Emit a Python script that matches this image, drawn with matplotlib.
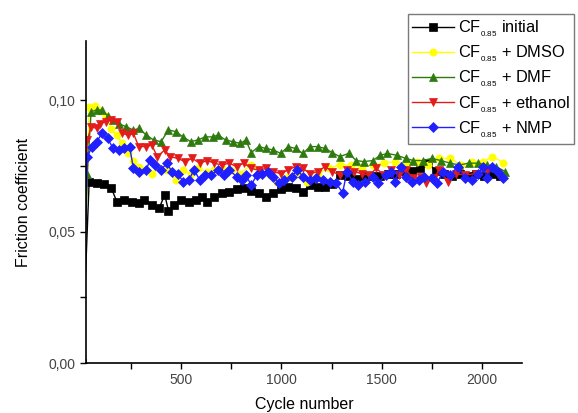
import matplotlib.pyplot as plt
from matplotlib.ticker import FixedLocator, FuncFormatter

plt.rcParams['font.family'] = ['Liberation Sans', 'DejaVu Sans']
plt.rcParams['mathtext.fontset'] = 'custom'
plt.rcParams['mathtext.rm'] = 'Liberation Sans'

# friction coefficient vs cycle number, one pair of lists per sample
cyc_initial = [5, 40, 77, 114, 151, 178, 215, 252, 288, 316, 353, 390, 417, 436, 463, 500, 537, 574,
               601, 629, 665, 702, 739, 776, 812, 849, 886, 923, 960, 996, 1033, 1070, 1107, 1143,
               1180, 1217, 1254, 1290, 1330, 1370, 1410, 1450, 1490, 1530, 1570, 1610, 1650, 1690,
               1730, 1770, 1810, 1850, 1890, 1930, 1970, 2010, 2050, 2090]
cf_initial = [0.0, 0.069, 0.0684, 0.068, 0.0665, 0.0614, 0.062, 0.0614, 0.061, 0.062, 0.060, 0.0589,
              0.064, 0.058, 0.060, 0.062, 0.0614, 0.062, 0.063, 0.0614, 0.063, 0.0646, 0.065, 0.066,
              0.0665, 0.0656, 0.0646, 0.063, 0.0646, 0.066, 0.067, 0.0665, 0.065, 0.0677, 0.067,
              0.067, 0.068, 0.0715, 0.071, 0.070, 0.071, 0.071, 0.071, 0.072, 0.072, 0.073, 0.073,
              0.074, 0.076, 0.073, 0.072, 0.071, 0.072, 0.071, 0.072, 0.071, 0.072, 0.071]

cyc_dmso = [5, 40, 68, 95, 123, 151, 178, 206, 233, 261, 288, 325, 353, 390, 427, 472, 509, 546, 583,
            629, 665, 702, 748, 794, 849, 886, 941, 978, 1033, 1088, 1125, 1180, 1235, 1290, 1345,
            1400, 1456, 1511, 1566, 1621, 1676, 1732, 1787, 1842, 1897, 1952, 2007, 2053, 2108]
cf_dmso = [0.0, 0.0975, 0.0977, 0.096, 0.094, 0.089, 0.0867, 0.0835, 0.0797, 0.077, 0.0747, 0.0734,
           0.072, 0.074, 0.0734, 0.0696, 0.0734, 0.072, 0.074, 0.0728, 0.0734, 0.074, 0.0734, 0.072,
           0.0753, 0.072, 0.0715, 0.069, 0.0709, 0.072, 0.069, 0.072, 0.074, 0.0753, 0.0753, 0.0747,
           0.0753, 0.076, 0.0766, 0.076, 0.0766, 0.0753, 0.0778, 0.0778, 0.0753, 0.0766, 0.0766,
           0.0785, 0.0762]

cyc_dmf = [5, 31, 50, 77, 105, 132, 160, 188, 224, 261, 288, 325, 362, 399, 436, 472, 509, 546, 583,
           619, 656, 684, 721, 757, 794, 822, 849, 886, 923, 960, 996, 1033, 1070, 1107, 1143, 1180,
           1217, 1254, 1290, 1336, 1373, 1410, 1456, 1493, 1529, 1575, 1621, 1658, 1704, 1750, 1796,
           1842, 1888, 1934, 1980, 2026, 2071, 2117]
cf_dmf = [0.0, 0.072, 0.0956, 0.0962, 0.0962, 0.094, 0.0924, 0.091, 0.0899, 0.0886, 0.0892, 0.0867,
          0.0848, 0.0842, 0.0886, 0.088, 0.086, 0.0842, 0.0848, 0.086, 0.086, 0.0867, 0.0848, 0.0842,
          0.0835, 0.0848, 0.080, 0.0823, 0.0816, 0.081, 0.0797, 0.0823, 0.0816, 0.0797, 0.0823,
          0.0823, 0.0816, 0.080, 0.0785, 0.0797, 0.077, 0.0766, 0.077, 0.079, 0.0797, 0.079, 0.0778,
          0.077, 0.077, 0.0778, 0.077, 0.076, 0.0753, 0.076, 0.076, 0.0753, 0.0747, 0.0728]

cyc_ethanol = [5, 31, 50, 77, 95, 123, 151, 178, 206, 233, 261, 288, 325, 353, 380, 417, 445, 482, 518,
               555, 592, 629, 665, 702, 739, 776, 812, 849, 886, 923, 960, 996, 1033, 1070, 1107, 1143,
               1180, 1217, 1254, 1290, 1327, 1364, 1400, 1437, 1474, 1511, 1548, 1585, 1621, 1658,
               1695, 1722, 1759, 1787, 1833, 1869, 1915, 1971, 2026, 2081]
cf_ethanol = [0.0, 0.0848, 0.0899, 0.0892, 0.091, 0.0918, 0.0924, 0.0918, 0.0873, 0.0867, 0.0873,
              0.0823, 0.0823, 0.0829, 0.0785, 0.081, 0.0785, 0.0778, 0.0766, 0.0778, 0.076, 0.077,
              0.076, 0.0753, 0.076, 0.0747, 0.076, 0.074, 0.0734, 0.074, 0.0728, 0.072, 0.0734,
              0.0747, 0.074, 0.072, 0.0728, 0.0747, 0.0728, 0.0715, 0.0734, 0.0728, 0.072, 0.0715,
              0.074, 0.0715, 0.0734, 0.0715, 0.0734, 0.0703, 0.0709, 0.0684, 0.0703, 0.0734, 0.069,
              0.072, 0.0715, 0.072, 0.0734, 0.072]

cyc_nmp = [5, 31, 55, 77, 105, 132, 160, 188, 215, 242, 261, 288, 325, 343, 371, 399, 427, 454, 482,
           509, 537, 564, 592, 619, 647, 684, 711, 739, 776, 803, 822, 849, 877, 904, 932, 960, 987,
           1015, 1051, 1079, 1107, 1143, 1171, 1208, 1244, 1272, 1305, 1327, 1355, 1382, 1419, 1456,
           1483, 1520, 1548, 1566, 1594, 1621, 1649, 1686, 1713, 1750, 1777, 1805, 1842, 1879, 1915,
           1952, 1980, 2007, 2026, 2053, 2081, 2108]
cf_nmp = [0.0, 0.0785, 0.0823, 0.0842, 0.0873, 0.0854, 0.0816, 0.081, 0.0816, 0.0823, 0.074, 0.0728,
          0.0734, 0.0772, 0.0753, 0.0734, 0.076, 0.0728, 0.072, 0.069, 0.0696, 0.0734, 0.0696,
          0.0715, 0.0715, 0.0734, 0.0715, 0.0734, 0.0709, 0.0696, 0.0715, 0.0677, 0.0715, 0.072,
          0.0728, 0.0709, 0.0684, 0.0696, 0.0709, 0.0734, 0.0709, 0.0696, 0.0703, 0.0696, 0.069,
          0.0684, 0.0648, 0.0728, 0.069, 0.0677, 0.069, 0.0709, 0.0684, 0.0715, 0.0728, 0.069,
          0.0747, 0.0709, 0.069, 0.0696, 0.0709, 0.0703, 0.0684, 0.0728, 0.0715, 0.0747, 0.0703,
          0.0696, 0.072, 0.0747, 0.0703, 0.0747, 0.0728, 0.0703]

sub = r'CF$_{{}_{\mathregular{0.85}}}$'
series = [
    (cyc_initial, cf_initial, 'black', 's', sub + ' initial'),
    (cyc_dmso, cf_dmso, '#ffff00', 'o', sub + ' + DMSO'),
    (cyc_dmf, cf_dmf, '#2f7a0f', '^', sub + ' + DMF'),
    (cyc_ethanol, cf_ethanol, '#e21b1b', 'v', sub + ' + ethanol'),
    (cyc_nmp, cf_nmp, '#1f1fff', 'D', sub + ' + NMP'),
]

fig = plt.figure(figsize=(5.78, 4.13), dpi=100)
ax = fig.add_axes([0.149, 0.121, 0.754, 0.780])

for x, y, c, m, lab in series:
    ms = 5.2 if m != 'D' else 4.6
    ax.plot(x, y, color=c, marker=m, markersize=ms, linewidth=1.0,
            markeredgewidth=0.5, label=lab)

ax.set_xlim(25, 2200)
ax.set_ylim(0, 0.1225)
ax.xaxis.set_major_locator(FixedLocator([500, 1000, 1500, 2000]))
ax.xaxis.set_minor_locator(FixedLocator([250, 750, 1250, 1750]))
ax.yaxis.set_major_locator(FixedLocator([0.0, 0.05, 0.10]))
ax.yaxis.set_minor_locator(FixedLocator([0.025, 0.075]))
ax.yaxis.set_major_formatter(FuncFormatter(lambda v, p: f'{v:.2f}'.replace('.', ',')))
ax.tick_params(which='both', direction='out', length=4, width=1, labelsize=10, colors='black')
ax.tick_params(which='major', labelcolor='#444444')

for s in ['top', 'right']:
    ax.spines[s].set_visible(False)
for s in ['left', 'bottom']:
    ax.spines[s].set_linewidth(1.2)

ax.set_xlabel('Cycle number', fontsize=11.5, labelpad=7)
ax.set_ylabel('Friction coefficient', fontsize=11.5, labelpad=13)

leg = fig.legend(loc='upper right', bbox_to_anchor=(1.008, 0.985), fontsize=11.8,
                 frameon=True, fancybox=False, edgecolor='#7a7a7a', framealpha=1,
                 handlelength=2.6, handletextpad=0.25, labelspacing=0.28, borderpad=0.25)
leg.get_frame().set_linewidth(1.0)

fig.savefig('out.png', dpi=100)
